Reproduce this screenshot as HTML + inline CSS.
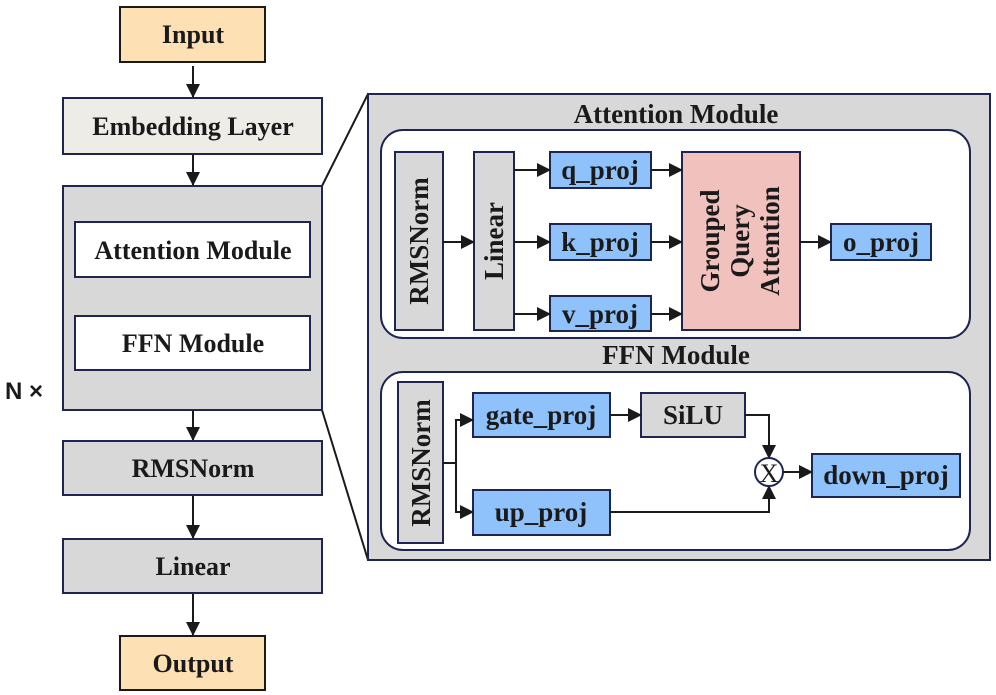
<!DOCTYPE html>
<html><head><meta charset="utf-8"><style>
html,body{margin:0;padding:0;background:#fff}
svg{display:block}
text{font-family:"Liberation Serif",serif;font-weight:bold;fill:#1a1a1a}
</style></head><body>
<svg width="996" height="695" viewBox="0 0 996 695" xmlns="http://www.w3.org/2000/svg">
<defs>
<marker id="b" markerWidth="14" markerHeight="14" refX="13" refY="7" orient="auto" markerUnits="userSpaceOnUse"><path d="M0,0 L14,7 L0,14 z" fill="#1a1a1a"/></marker>
</defs>
<g stroke="#1a1a1a" stroke-width="2" fill="none">
<line x1="193" y1="66" x2="193" y2="97" marker-end="url(#b)"/>
<line x1="193" y1="154" x2="193" y2="185" marker-end="url(#b)"/>
<line x1="193" y1="410" x2="193" y2="440" marker-end="url(#b)"/>
<line x1="193" y1="495" x2="193" y2="538" marker-end="url(#b)"/>
<line x1="193" y1="593" x2="193" y2="635" marker-end="url(#b)"/>
<line x1="322" y1="186" x2="368" y2="94"/>
<line x1="322" y1="410" x2="368" y2="560"/>
</g>
<rect x="120" y="7" width="145" height="55" fill="#fde0b4" stroke="#1a1a1a" stroke-width="2"/>
<text x="193" y="43" font-size="26" text-anchor="middle">Input</text>
<rect x="63" y="98" width="259" height="56" fill="#eeece6" stroke="#1d2550" stroke-width="2"/>
<text x="193" y="135" font-size="26" text-anchor="middle">Embedding Layer</text>
<rect x="63" y="186" width="259" height="224" fill="#d8d8d8" stroke="#1d2550" stroke-width="2"/>
<rect x="75" y="222" width="235" height="55" fill="#fff" stroke="#1d2550" stroke-width="2"/>
<text x="193" y="259" font-size="26" text-anchor="middle">Attention Module</text>
<rect x="75" y="316" width="235" height="54" fill="#fff" stroke="#1d2550" stroke-width="2"/>
<text x="193" y="352" font-size="26" text-anchor="middle">FFN Module</text>
<text x="5" y="399" font-size="24" style="font-family:'Liberation Sans',sans-serif">N ×</text>
<rect x="63" y="441" width="259" height="54" fill="#d8d8d8" stroke="#1d2550" stroke-width="2"/>
<text x="193" y="477" font-size="26" text-anchor="middle">RMSNorm</text>
<rect x="63" y="539" width="259" height="54" fill="#d8d8d8" stroke="#1d2550" stroke-width="2"/>
<text x="193" y="575" font-size="26" text-anchor="middle">Linear</text>
<rect x="120" y="636" width="145" height="54" fill="#fde0b4" stroke="#1a1a1a" stroke-width="2"/>
<text x="193" y="672" font-size="26" text-anchor="middle">Output</text>

<rect x="368" y="94" width="622" height="466" fill="#d8d8d8" stroke="#1d2550" stroke-width="2"/>
<text x="676" y="123" font-size="27" text-anchor="middle">Attention Module</text>
<rect x="381" y="130" width="589" height="208" rx="22" fill="#fff" stroke="#1d2550" stroke-width="2"/>
<rect x="395" y="152" width="48" height="178" fill="#d8d8d8" stroke="#1d2550" stroke-width="2"/>
<text transform="translate(428,241) rotate(-90)" font-size="27" text-anchor="middle">RMSNorm</text>
<rect x="474" y="152" width="40" height="178" fill="#d8d8d8" stroke="#1d2550" stroke-width="2"/>
<text transform="translate(503,241) rotate(-90)" font-size="27" text-anchor="middle">Linear</text>
<rect x="550" y="152" width="101" height="36" fill="#8fc2fb" stroke="#1d2550" stroke-width="2"/>
<text x="600" y="179" font-size="27" text-anchor="middle">q_proj</text>
<rect x="550" y="224" width="101" height="36" fill="#8fc2fb" stroke="#1d2550" stroke-width="2"/>
<text x="600" y="251" font-size="27" text-anchor="middle">k_proj</text>
<rect x="550" y="296" width="101" height="35" fill="#8fc2fb" stroke="#1d2550" stroke-width="2"/>
<text x="600" y="323" font-size="27" text-anchor="middle">v_proj</text>
<rect x="682" y="152" width="118" height="178" fill="#f0c1bd" stroke="#1d2550" stroke-width="2"/>
<text transform="translate(719,241) rotate(-90)" font-size="27" text-anchor="middle">Grouped</text>
<text transform="translate(749,241) rotate(-90)" font-size="27" text-anchor="middle">Query</text>
<text transform="translate(779,241) rotate(-90)" font-size="27" text-anchor="middle">Attention</text>
<rect x="831" y="224" width="100" height="36" fill="#8fc2fb" stroke="#1d2550" stroke-width="2"/>
<text x="881" y="251" font-size="27" text-anchor="middle">o_proj</text>
<g stroke="#1a1a1a" stroke-width="2" fill="none">
<line x1="443" y1="242" x2="474" y2="242" marker-end="url(#b)"/>
<line x1="514" y1="170" x2="550" y2="170" marker-end="url(#b)"/>
<line x1="514" y1="242" x2="550" y2="242" marker-end="url(#b)"/>
<line x1="514" y1="314" x2="550" y2="314" marker-end="url(#b)"/>
<line x1="651" y1="170" x2="682" y2="170" marker-end="url(#b)"/>
<line x1="651" y1="242" x2="682" y2="242" marker-end="url(#b)"/>
<line x1="651" y1="314" x2="682" y2="314" marker-end="url(#b)"/>
<line x1="800" y1="242" x2="831" y2="242" marker-end="url(#b)"/>
</g>

<text x="676" y="364" font-size="27" text-anchor="middle">FFN Module</text>
<rect x="381" y="372" width="589" height="178" rx="22" fill="#fff" stroke="#1d2550" stroke-width="2"/>
<rect x="398" y="382" width="45" height="161" fill="#d8d8d8" stroke="#1d2550" stroke-width="2"/>
<text transform="translate(430,463) rotate(-90)" font-size="27" text-anchor="middle">RMSNorm</text>
<rect x="473" y="393" width="137" height="44" fill="#8fc2fb" stroke="#1d2550" stroke-width="2"/>
<text x="541" y="424" font-size="27" text-anchor="middle">gate_proj</text>
<rect x="641" y="393" width="104" height="44" fill="#d8d8d8" stroke="#1d2550" stroke-width="2"/>
<text x="693" y="424" font-size="27" text-anchor="middle">SiLU</text>
<rect x="473" y="490" width="137" height="45" fill="#8fc2fb" stroke="#1d2550" stroke-width="2"/>
<text x="541" y="521" font-size="27" text-anchor="middle">up_proj</text>
<rect x="812" y="454" width="148" height="43" fill="#8fc2fb" stroke="#1d2550" stroke-width="2"/>
<text x="886" y="484" font-size="27" text-anchor="middle">down_proj</text>
<g stroke="#1a1a1a" stroke-width="2" fill="none">
<polyline points="443,463 456,463"/>
<polyline points="456,463 456,420 473,420" marker-end="url(#b)"/>
<polyline points="456,463 456,512 473,512" marker-end="url(#b)"/>
<line x1="610" y1="415" x2="641" y2="415" marker-end="url(#b)"/>
<polyline points="745,415 769,415 769,458" marker-end="url(#b)"/>
<polyline points="610,512 769,512 769,486" marker-end="url(#b)"/>
<line x1="783" y1="472" x2="812" y2="472" marker-end="url(#b)"/>
</g>
<circle cx="769" cy="472" r="14" fill="#fff" stroke="#1d2550" stroke-width="2"/>
<text x="769" y="482" font-size="26" text-anchor="middle" style="font-weight:normal">X</text>
</svg>
</body></html>
